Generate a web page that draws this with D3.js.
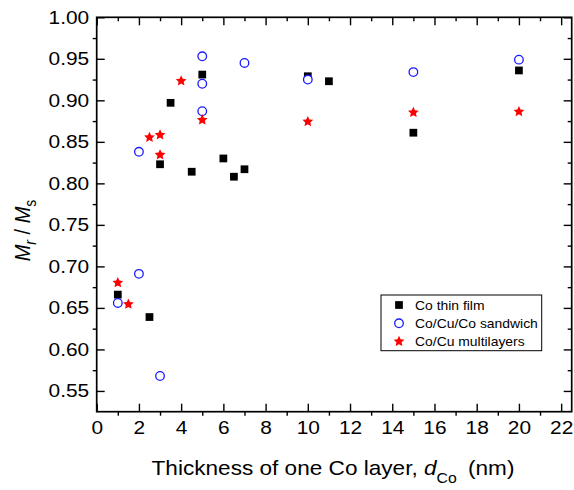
<!DOCTYPE html>
<html>
<head>
<meta charset="utf-8">
<script src="https://cdn.jsdelivr.net/npm/d3@7"></script>
<style>
  html, body { margin: 0; padding: 0; background: #fff; }
  svg { display: block; font-family: "Liberation Sans", Arial, sans-serif; }
</style>
</head>
<body>
<svg id="chart" width="574" height="490"></svg>
<script>
// ---- data ----
const filmX = [1, 2.5, 3, 3.5, 4.5, 5, 6, 6.5, 7, 10, 11, 15, 20];
const filmY = [0.666, 0.639, 0.823, 0.897, 0.814, 0.931, 0.830, 0.808, 0.817, 0.929, 0.923, 0.861, 0.936];
const sandwichX = [1, 2, 2, 3, 5, 5, 5, 7, 10, 15, 20];
const sandwichY = [0.656, 0.691, 0.838, 0.568, 0.953, 0.920, 0.887, 0.945, 0.925, 0.934, 0.949];
const multiX = [1, 1.5, 2.5, 3, 3, 4, 5, 10, 15, 20];
const multiY = [0.681, 0.655, 0.856, 0.859, 0.835, 0.924, 0.877, 0.875, 0.886, 0.887];
const seriesNames = ["Co thin film", "Co/Cu/Co sandwich", "Co/Cu multilayers"];
const xMajor = [0, 2, 4, 6, 8, 10, 12, 14, 16, 18, 20, 22];
const xMinor = [1, 3, 5, 7, 9, 11, 13, 15, 17, 19, 21];
const yMajor = [0.55, 0.60, 0.65, 0.70, 0.75, 0.80, 0.85, 0.90, 0.95, 1.00];
const yMinor = [0.575, 0.625, 0.675, 0.725, 0.775, 0.825, 0.875, 0.925, 0.975];

// ---- layout ----
const L = 96.7, R = 571.7, T = 17.3, B = 411.7;
const x = d3.scaleLinear().domain([0, 22.5]).range([L, R]);
const y = d3.scaleLinear().domain([0.525, 1.0]).range([B, T]);
const SX = 1.13; // horizontal stretch of the reference's lettering

const svg = d3.select("#chart");
const fontTick = 18.5;

// axes
const gB = svg.append("g").attr("transform", `translate(0,${B})`)
  .call(d3.axisBottom(x).tickValues(xMajor).tickSize(-8).tickPadding(9).tickFormat(d3.format("d")));
const gBm = svg.append("g").attr("transform", `translate(0,${B})`)
  .call(d3.axisBottom(x).tickValues(xMinor).tickSize(4).tickFormat(""));
const gT = svg.append("g").attr("transform", `translate(0,${T})`)
  .call(d3.axisTop(x).tickValues(xMajor).tickSize(-8).tickFormat(""));
const gTm = svg.append("g").attr("transform", `translate(0,${T})`)
  .call(d3.axisTop(x).tickValues(xMinor).tickSize(-4).tickFormat(""));
const gL = svg.append("g").attr("transform", `translate(${L},0)`)
  .call(d3.axisLeft(y).tickValues(yMajor).tickSize(-8).tickPadding(7.5).tickFormat(d3.format(".2f")));
const gLm = svg.append("g").attr("transform", `translate(${L},0)`)
  .call(d3.axisLeft(y).tickValues(yMinor).tickSize(4).tickFormat(""));
const gR = svg.append("g").attr("transform", `translate(${R},0)`)
  .call(d3.axisRight(y).tickValues(yMajor).tickSize(-8).tickFormat(""));
const gRm = svg.append("g").attr("transform", `translate(${R},0)`)
  .call(d3.axisRight(y).tickValues(yMinor).tickSize(-4).tickFormat(""));

[gB, gBm, gT, gTm, gL, gLm, gR, gRm].forEach(g => {
  g.select(".domain").remove();
  g.selectAll("line").attr("stroke", "#000").attr("stroke-width", 1.4);
  g.selectAll("text").attr("fill", "#000").style("font-size", fontTick + "px")
   .style("font-family", '"Liberation Sans", Arial, sans-serif');
});
gB.selectAll(".tick text").attr("transform", `scale(${SX},1)`);
gL.selectAll(".tick text").attr("transform", `translate(-7.5,0) scale(${SX},1) translate(7.5,0)`);

// frame
svg.append("rect").attr("x", L).attr("y", T).attr("width", R - L).attr("height", B - T)
  .attr("fill", "none").attr("stroke", "#000").attr("stroke-width", 1.7);

// markers
const starType = {
  draw(ctx, size) {
    const r = Math.sqrt(size) , ri = r * 0.48;
    for (let k = 0; k < 10; k++) {
      const a = -Math.PI / 2 + k * Math.PI / 5;
      const rr = k % 2 ? ri : r;
      const px = rr * Math.cos(a), py = rr * Math.sin(a);
      if (k === 0) ctx.moveTo(px, py); else ctx.lineTo(px, py);
    }
    ctx.closePath();
  }
};
const sq = d3.symbol().type(d3.symbolSquare).size(60);
const star = d3.symbol().type(starType).size(32);

function drawSquare(g, cx, cy) {
  g.append("path").attr("d", sq()).attr("transform", `translate(${cx},${cy})`)
    .attr("fill", "#000");
}
function drawCircle(g, cx, cy) {
  g.append("circle").attr("cx", cx).attr("cy", cy).attr("r", 4.3)
    .attr("fill", "#fff").attr("stroke", "#1a1aff").attr("stroke-width", 1.3);
}
function drawStar(g, cx, cy) {
  g.append("path").attr("d", star()).attr("transform", `translate(${cx},${cy + 0.5})`)
    .attr("fill", "#ff0000");
}

const gm = svg.append("g");
filmX.forEach((v, i) => drawSquare(gm, x(v), y(filmY[i])));
sandwichX.forEach((v, i) => drawCircle(gm, x(v), y(sandwichY[i])));
multiX.forEach((v, i) => drawStar(gm, x(v), y(multiY[i])));

// legend
const lg = svg.append("g");
lg.append("rect").attr("x", 381).attr("y", 295).attr("width", 160.7).attr("height", 55.7)
  .attr("fill", "#fff").attr("stroke", "#000").attr("stroke-width", 1);
const rows = [305, 323.3, 341];
drawSquare(lg, 399, rows[0]);
drawCircle(lg, 399, rows[1]);
drawStar(lg, 399, rows[2]);
seriesNames.forEach((n, i) => {
  lg.append("text").attr("x", 415).attr("y", rows[i]).attr("dy", "0.36em")
    .attr("transform", `translate(415,0) scale(1.07,1) translate(-415,0)`)
    .style("font-size", "13px").attr("fill", "#000").text(n);
});

// x title
const xt = svg.append("text").attr("x", 0).attr("y", 0).attr("text-anchor", "middle")
  .attr("transform", `translate(333,474.5) scale(${SX},1)`)
  .style("font-size", "20px").attr("fill", "#000").attr("xml:space", "preserve");
xt.append("tspan").text("Thickness of one Co layer, ");
xt.append("tspan").style("font-style", "italic").text("d");
xt.append("tspan").attr("dy", 8).style("font-size", "14px").text("Co");
xt.append("tspan").attr("dy", -8).attr("dx", 10).text("(nm)");

// y title
const yt = svg.append("text").attr("transform", `translate(30,230.5) scale(${SX},1) rotate(-90)`)
  .attr("text-anchor", "middle").style("font-size", "20px").attr("fill", "#000")
  .attr("xml:space", "preserve");
yt.append("tspan").style("font-style", "italic").text("M");
yt.append("tspan").attr("dy", 5).style("font-size", "14px").style("font-style", "italic").text("r");
yt.append("tspan").attr("dy", -5).text(" / ");
yt.append("tspan").style("font-style", "italic").text("M");
yt.append("tspan").attr("dy", 5).style("font-size", "14px").text("s");
</script>
</body>
</html>
